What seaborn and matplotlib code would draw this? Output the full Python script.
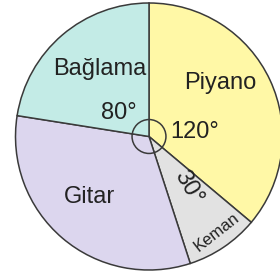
import matplotlib
matplotlib.use("Agg")
import matplotlib.pyplot as plt
import seaborn as sns

# slices, clockwise from 12 o'clock (sizes as drawn in the figure)
instruments = ["Piyano", "Keman", "Gitar", "Bağlama"]
drawn_angles = [130, 32, 117, 81]
angle_labels = ["120°", "30°", "", "80°"]
colors = ["#FFF8A6", "#E2E2E2", "#DCD6EE", "#C3EBE6"]

sns.set_style("white")
plt.rcParams["font.family"] = ["Liberation Sans", "DejaVu Sans"]

fig = plt.figure(figsize=(2.8, 2.8), dpi=100)
ax = fig.add_axes([0, 0, 1, 1])

ax.pie(drawn_angles, colors=sns.color_palette(colors), startangle=90, counterclock=False,
       radius=1, wedgeprops=dict(edgecolor="#3a3a3a", linewidth=1.1))

# small angle marker at the centre
ax.add_patch(plt.Circle((0, 0), 0.127, fill=False, edgecolor="#3a3a3a", linewidth=1.1))

# pixel -> data helper (centre at 149,136.5 px, radius 133.5 px)
def px(x, y):
    return (x - 149) / 133.5, (136.5 - y) / 133.5

txt = dict(color="#222222", ha="center", va="center")
ax.text(*px(100, 69), instruments[3], fontsize=17, **txt)
ax.text(*px(220, 83), instruments[0], fontsize=17, **txt)
ax.text(*px(89, 197), instruments[2], fontsize=17, **txt)
ax.text(*px(217, 232), instruments[1], fontsize=12, rotation=38, **txt)
ax.text(*px(119, 113), angle_labels[3], fontsize=17, **txt)
ax.text(*px(195, 132), angle_labels[0], fontsize=17, **txt)
ax.text(*px(188, 187), angle_labels[1], fontsize=17, rotation=-60, **txt)

ax.set_xlim(-149 / 133.5, 131 / 133.5)
ax.set_ylim(-143.5 / 133.5, 136.5 / 133.5)
ax.set_aspect("auto")
ax.axis("off")

fig.savefig("out.png", dpi=100, facecolor="white")
